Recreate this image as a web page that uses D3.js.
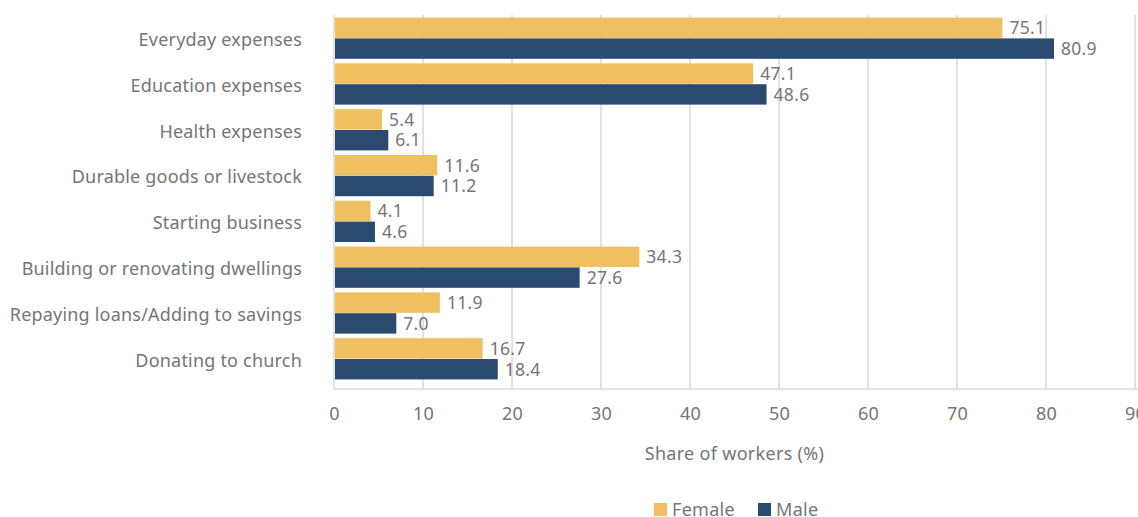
<!DOCTYPE html>
<html>
<head>
<meta charset="utf-8">
<script src="https://cdn.jsdelivr.net/npm/d3@7"></script>
<style>
  html, body { margin: 0; padding: 0; background: #fff; }
  svg { display: block; font-family: "Noto Sans", "Open Sans", sans-serif; }
</style>
</head>
<body>
<svg id="chart" width="1138" height="517"></svg>
<script>
// Uses of earnings by gender
const categories = [
  "Everyday expenses",
  "Education expenses",
  "Health expenses",
  "Durable goods or livestock",
  "Starting business",
  "Building or renovating dwellings",
  "Repaying loans/Adding to savings",
  "Donating to church"
];
const female = [75.1, 47.1, 5.4, 11.6, 4.1, 34.3, 11.9, 16.7];
const male   = [80.9, 48.6, 6.1, 11.2, 4.6, 27.6, 7.0, 18.4];
const xTicks = [0, 10, 20, 30, 40, 50, 60, 70, 80, 90];
const seriesNames = ["Female", "Male"];

const colors = { Female: "#F0BF5F", Male: "#2B4A70" };
const textColor = "#757575";
const gridColor = "#D9D9D9";
const fontFamily = "'Noto Sans', 'Open Sans', sans-serif";

const svg = d3.select("#chart");
const plotLeft = 334, plotRight = 1135, plotTop = 15, plotBottom = 389;

const x = d3.scaleLinear().domain([0, 90]).range([plotLeft, plotRight]);
const y = d3.scaleBand().domain(categories).range([13, 384])
  .paddingInner(0.1).paddingOuter(0.1);
const ySub = d3.scaleBand().domain(seriesNames).range([0, y.bandwidth()]).paddingInner(0.02);

// gridlines
svg.append("g").selectAll("line").data(xTicks).join("line")
  .attr("x1", d => x(d)).attr("x2", d => x(d))
  .attr("y1", plotTop).attr("y2", plotBottom)
  .attr("stroke", gridColor).attr("stroke-width", 1.5);

// baseline axis
svg.append("line")
  .attr("x1", plotLeft).attr("x2", 1138).attr("y1", plotBottom).attr("y2", plotBottom)
  .attr("stroke", gridColor).attr("stroke-width", 1.5);

// x tick labels
const xAxis = d3.axisBottom(x).tickValues(xTicks).tickSize(0).tickPadding(0);
const gx = svg.append("g").attr("transform", `translate(0,${plotBottom})`).call(xAxis);
gx.select(".domain").remove();
gx.selectAll("text")
  .attr("y", 31).attr("dy", 0)
  .attr("fill", textColor).style("font-size", "18px")
  .style("letter-spacing", "0.3px")
  .style("font-family", fontFamily);

// category labels
const yAxis = d3.axisLeft(y).tickSize(0).tickPadding(0);
const gy = svg.append("g").attr("transform", `translate(302,2)`).call(yAxis);
gy.select(".domain").remove();
gy.selectAll("text")
  .attr("fill", textColor).style("font-size", "18px")
  .style("letter-spacing", "0.2px")
  .style("font-family", fontFamily);

// bars
const rows = categories.map((c, i) => ({ c, Female: female[i], Male: male[i] }));
const groups = svg.append("g").selectAll("g").data(rows).join("g")
  .attr("transform", d => `translate(0,${y(d.c)})`);

groups.selectAll("rect").data(d => seriesNames.map(s => ({ s, v: d[s] }))).join("rect")
  .attr("x", x(0) + 1)
  .attr("y", d => ySub(d.s))
  .attr("width", d => x(d.v) - x(0) - 1)
  .attr("height", ySub.bandwidth())
  .attr("fill", d => colors[d.s]);

groups.selectAll("text").data(d => seriesNames.map(s => ({ s, v: d[s] }))).join("text")
  .attr("x", d => x(d.v) + 7)
  .attr("y", d => ySub(d.s) + ySub.bandwidth() / 2)
  .attr("dy", "0.36em")
  .attr("fill", textColor).style("font-size", "17.5px")
  .style("letter-spacing", "0.3px")
  .text(d => d.v.toFixed(1));

// axis title
svg.append("text")
  .attr("x", (plotLeft + plotRight) / 2).attr("y", 460)
  .attr("text-anchor", "middle")
  .attr("fill", textColor).style("font-size", "18px")
  .style("letter-spacing", "0.3px")
  .text("Share of workers (%)");

// legend
const legend = svg.append("g").attr("transform", "translate(654,510)");
const legendX = [0, 104];
seriesNames.forEach((s, i) => {
  const g = legend.append("g").attr("transform", `translate(${legendX[i]},0)`);
  g.append("rect").attr("x", 0).attr("y", -7).attr("width", 13).attr("height", 13)
    .attr("fill", colors[s]);
  g.append("text").attr("x", 18).attr("y", 0).attr("dy", "0.36em")
    .attr("fill", textColor).style("font-size", "18px")
    .style("letter-spacing", "0.3px").text(s);
});
</script>
</body>
</html>
